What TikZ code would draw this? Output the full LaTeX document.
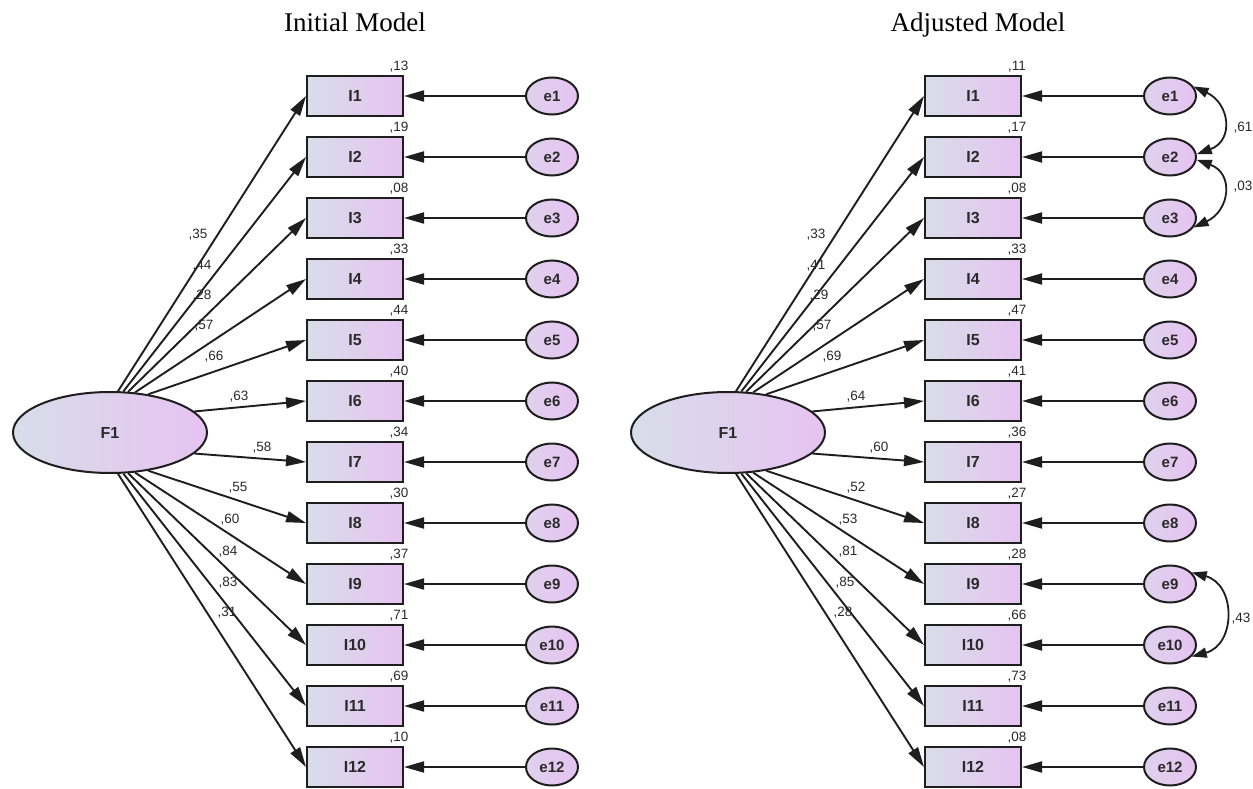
\documentclass[tikz,border=0pt]{standalone}
\usepackage{fontspec}
\setmainfont{Liberation Serif}
\newfontfamily\labelfont{Liberation Sans}
\usetikzlibrary{arrows.meta,shapes.geometric}

\definecolor{shadeL}{HTML}{D8DDE9}
\definecolor{shadeR}{HTML}{E6C3F1}
\definecolor{edgec}{HTML}{1E1E1E}
\definecolor{numc}{HTML}{2A2A2A}

\begin{document}
\begin{tikzpicture}[x=1pt,y=-1pt,
  arrowline/.style={-{Triangle[length=20pt,width=11pt]}, line width=1.9pt, draw=edgec},
  covline/.style={{Triangle[length=15pt,width=10pt]}-{Triangle[length=15pt,width=10pt]}, line width=1.8pt, draw=edgec},
  itembox/.style={rectangle, draw=edgec, line width=2pt, left color=shadeL, right color=shadeR,
    minimum width=96pt, minimum height=40pt, inner sep=0pt,
    font=\labelfont\fontsize{16}{16}\selectfont\bfseries, text=numc},
  errnode/.style={ellipse, draw=edgec, line width=2pt, left color=shadeL!55!shadeR, right color=shadeR,
    minimum width=52pt, minimum height=37pt, inner sep=0pt,
    font=\labelfont\fontsize{15}{15}\selectfont\bfseries, text=numc},
  factornode/.style={ellipse, draw=edgec, line width=2pt, left color=shadeL, right color=shadeR,
    minimum width=194pt, minimum height=81pt, inner sep=0pt,
    font=\labelfont\fontsize{16}{16}\selectfont\bfseries, text=numc},
  coef/.style={font=\labelfont\fontsize{13.5}{13.5}\selectfont, text=numc, inner sep=0pt},
  heading/.style={font=\fontsize{27}{27}\selectfont, inner sep=0pt, anchor=base}
]
\useasboundingbox[fill=white] (0,0) rectangle (1253,789);

% panel titles
\node[heading] (titleA) at (355,32) {Initial Model};
\node[heading] (titleB) at (978,32) {Adjusted Model};

% ---------- initial model ----------
\begin{scope}[name prefix=L-]
  \node[factornode] (F1) at (110,432.5) {F1};
  \foreach \i in {1,...,12}{
    \node[itembox] (I\i) at (355,{96+61*(\i-1)}) {I\i};
    \node[errnode] (e\i) at (552,{96+61*(\i-1)}) {e\i};
    \draw[arrowline] (e\i) -- (I\i);
  }
  \foreach \i/\a in {1/79,2/72,3/66,4/58,5/45,6/14,7/-14,8/-45,9/-58,10/-66,11/-72,12/-79}
    \draw[arrowline] (F1.\a) -- (I\i.west);
  % squared multiple correlations
  \foreach \i/\v in {1/13,2/19,3/08,4/33,5/44,6/40,7/34,8/30,9/37,10/71,11/69,12/10}
    \node[coef, anchor=base] at (399,{70.5+61*(\i-1)}) {,\v};
  % standardized loadings
  \foreach \v/\x/\y in {35/198/235, 44/202/266, 28/202/296, 57/204/326, 66/214/357, 63/239/397,
                        58/262/448, 55/238/488, 60/230/520, 84/228/552, 83/228/583, 31/227/613}
    \node[coef] at (\x,\y) {,\v};
\end{scope}

% ---------- adjusted model ----------
\begin{scope}[xshift=618pt, name prefix=R-]
  \node[factornode] (F1) at (110,432.5) {F1};
  \foreach \i in {1,...,12}{
    \node[itembox] (I\i) at (355,{96+61*(\i-1)}) {I\i};
    \node[errnode] (e\i) at (552,{96+61*(\i-1)}) {e\i};
    \draw[arrowline] (e\i) -- (I\i);
  }
  \foreach \i/\a in {1/79,2/72,3/66,4/58,5/45,6/14,7/-14,8/-45,9/-58,10/-66,11/-72,12/-79}
    \draw[arrowline] (F1.\a) -- (I\i.west);
  \foreach \i/\v in {1/11,2/17,3/08,4/33,5/47,6/41,7/36,8/27,9/28,10/66,11/73,12/08}
    \node[coef, anchor=base] at (399,{70.5+61*(\i-1)}) {,\v};
  \foreach \v/\x/\y in {33/198/235, 41/198/266, 29/201/296, 57/204/326, 69/214/357, 64/238/397,
                        60/261/448, 52/238/488, 53/230/520, 81/230/552, 85/227/583, 28/225/613}
    \node[coef] at (\x,\y) {,\v};
  % error covariances
  \draw[covline] (e1.22) .. controls +(-25:40pt) and +(20:40pt) .. (e2.6);
  \draw[covline] (e2.-6) .. controls +(-20:40pt) and +(25:40pt) .. (e3.-22);
  \draw[covline] (e9.28) .. controls +(-15:46pt) and +(15:46pt) .. (e10.-28);
  \node[coef] at (625,128) {,61};
  \node[coef] at (625,187) {,03};
  \node[coef] at (623,619) {,43};
\end{scope}
\end{tikzpicture}
\end{document}
